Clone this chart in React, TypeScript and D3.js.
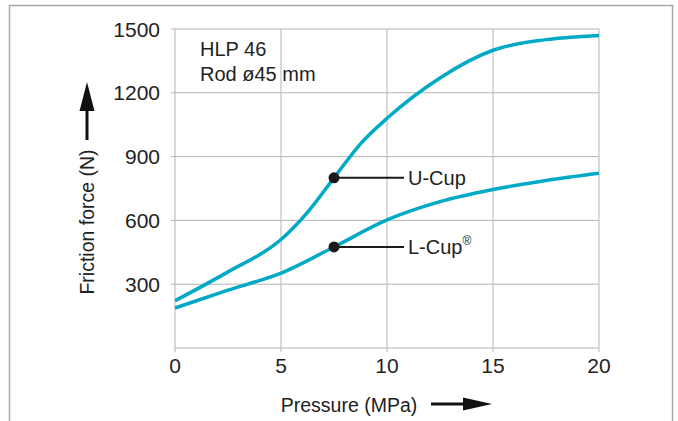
import * as d3 from "d3";
import { useEffect, useRef } from "react";

// Pressure (MPa) -> friction force (N)
const uCupX = [0, 2.5, 5, 6.25, 7.5, 8.75, 10, 12.5, 15, 17.5, 20];
const uCupY = [222, 358, 510, 638, 800, 960, 1080, 1270, 1400, 1450, 1470];
const lCupX = [0, 2.5, 5, 7.5, 10, 12.5, 15, 17.5, 20];
const lCupY = [188, 272, 352, 475, 602, 688, 745, 788, 822];

const xTicks = [0, 5, 10, 15, 20];
const yTicks = [300, 600, 900, 1200, 1500];

// marked points with callouts
const markers = [
  { name: "U-Cup", sup: "", x: 7.5, y: 800 },
  { name: "L-Cup", sup: "®", x: 7.5, y: 475 },
];

const W = 678;
const H = 421;
const FONT = "'Liberation Sans', Arial, sans-serif";
const TEAL = "#00aac6";
const GRID = "#b4b4b4";

const App = () => {
  const ref = useRef<SVGSVGElement | null>(null);

  useEffect(() => {
    const svg = d3.select(ref.current);
    svg.selectAll("*").remove();

    const margin = { top: 29, right: 79, bottom: 73, left: 175 };
    const x = d3.scaleLinear().domain([0, 20]).range([margin.left, W - margin.right]);
    const y = d3.scaleLinear().domain([0, 1500]).range([H - margin.bottom, margin.top]);

    // outer frame
    svg.append("rect")
      .attr("x", 9.5).attr("y", 5.5)
      .attr("width", 663).attr("height", 440)
      .attr("fill", "none")
      .attr("stroke", "#a8a8a8")
      .attr("stroke-width", 1.5);

    // grid
    const g = svg.append("g");
    g.selectAll(".gx")
      .data(xTicks)
      .enter()
      .append("line")
        .attr("x1", d => x(d)).attr("x2", d => x(d))
        .attr("y1", y(1500)).attr("y2", y(0) + 4)
        .attr("stroke", GRID).attr("stroke-width", 1);
    g.selectAll(".gy")
      .data([0, ...yTicks])
      .enter()
      .append("line")
        .attr("x1", d => (d === 0 ? x(0) : x(0) - 4)).attr("x2", x(20))
        .attr("y1", d => y(d)).attr("y2", d => y(d))
        .attr("stroke", GRID).attr("stroke-width", 1);

    // tick labels
    svg.selectAll(".xt")
      .data(xTicks)
      .enter()
      .append("text")
        .attr("x", d => x(d))
        .attr("y", y(0) + 25)
        .attr("text-anchor", "middle")
        .attr("font-family", FONT)
        .attr("font-size", 21)
        .attr("fill", "#222")
        .text(d => d);
    svg.selectAll(".yt")
      .data(yTicks)
      .enter()
      .append("text")
        .attr("x", 160)
        .attr("y", d => y(d) + 7.5)
        .attr("text-anchor", "end")
        .attr("font-family", FONT)
        .attr("font-size", 21)
        .attr("fill", "#222")
        .text(d => d);

    // curves
    const line = d3.line<[number, number]>()
      .x(d => x(d[0]))
      .y(d => y(d[1]))
      .curve(d3.curveMonotoneX);
    [[uCupX, uCupY], [lCupX, lCupY]].forEach(([xs, ys]) => {
      svg.append("path")
        .datum(xs.map((v, i) => [v, ys[i]] as [number, number]))
        .attr("d", line)
        .attr("fill", "none")
        .attr("stroke", TEAL)
        .attr("stroke-width", 3.5);
    });

    // callouts
    markers.forEach(m => {
      const cx = x(m.x), cy = y(m.y);
      svg.append("line")
        .attr("x1", cx).attr("x2", 404)
        .attr("y1", cy).attr("y2", cy)
        .attr("stroke", "#1a1a1a").attr("stroke-width", 2);
      svg.append("circle")
        .attr("cx", cx).attr("cy", cy).attr("r", 5.5)
        .attr("fill", "#1a1a1a");
      const t = svg.append("text")
        .attr("x", 408).attr("y", cy + 7)
        .attr("font-family", FONT)
        .attr("font-size", 20)
        .attr("fill", "#222")
        .text(m.name);
      if (m.sup) {
        t.append("tspan")
          .attr("font-size", 12)
          .attr("dy", -9)
          .text(m.sup);
      }
    });

    // legend note
    svg.append("text")
      .attr("x", 200).attr("y", 56)
      .attr("font-family", FONT).attr("font-size", 20).attr("fill", "#222")
      .text("HLP 46");
    svg.append("text")
      .attr("x", 200).attr("y", 81)
      .attr("font-family", FONT).attr("font-size", 20).attr("fill", "#222")
      .text("Rod ø45 mm");

    // axis titles with arrows
    svg.append("text")
      .attr("x", 349).attr("y", 412)
      .attr("text-anchor", "middle")
      .attr("font-family", FONT).attr("font-size", 19.5).attr("fill", "#222")
      .text("Pressure (MPa)");
    svg.append("line")
      .attr("x1", 431).attr("x2", 466)
      .attr("y1", 404).attr("y2", 404)
      .attr("stroke", "#111").attr("stroke-width", 3);
    svg.append("path")
      .attr("d", "M463,397.5 L492,404 L463,410.5 Z")
      .attr("fill", "#111");

    svg.append("text")
      .attr("transform", "translate(94,222) rotate(-90)")
      .attr("text-anchor", "middle")
      .attr("font-family", FONT).attr("font-size", 19.5).attr("fill", "#222")
      .text("Friction force (N)");
    svg.append("line")
      .attr("x1", 87).attr("x2", 87)
      .attr("y1", 140).attr("y2", 108)
      .attr("stroke", "#111").attr("stroke-width", 3);
    svg.append("path")
      .attr("d", "M79.5,111 L87,82 L94.5,111 Z")
      .attr("fill", "#111");
  }, []);

  return (
    <svg
      ref={ref}
      width={W}
      height={H}
      style={{ position: "absolute", left: 0, top: 0, background: "#fff" }}
    ></svg>
  );
};

export default App;
